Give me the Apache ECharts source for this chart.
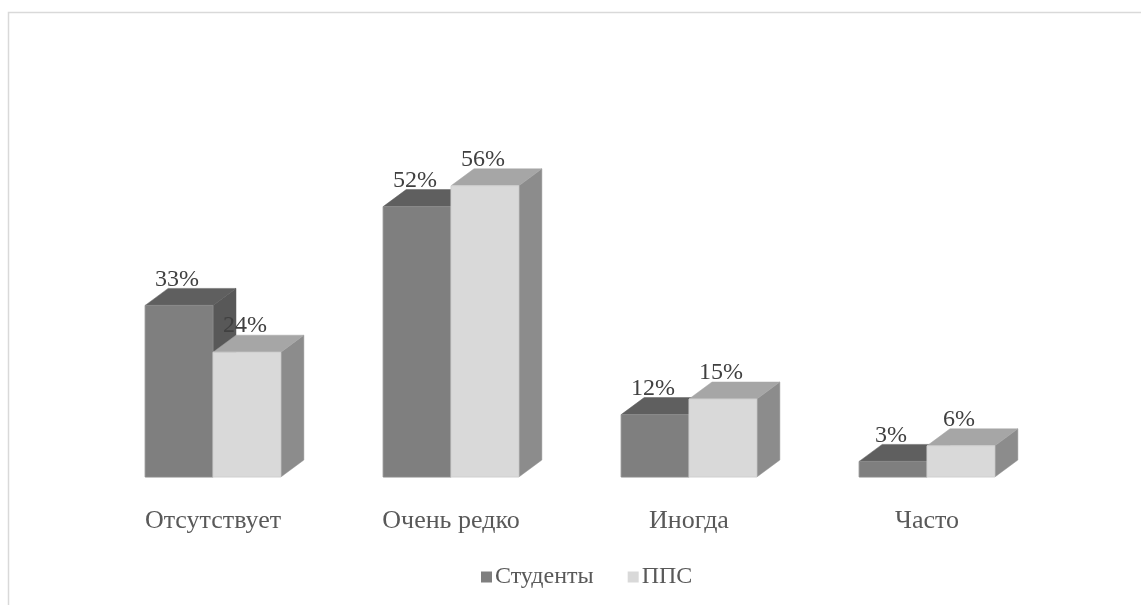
<!DOCTYPE html>
<html>
<head>
<meta charset="utf-8">
<script src="https://cdn.jsdelivr.net/npm/echarts@6/dist/echarts.min.js"></script>
<style>html,body{margin:0;padding:0;background:#fff}#c{width:1141px;height:605px}</style>
</head>
<body>
<div id="c"></div>
<script>
const categories = ['Отсутствует', 'Очень редко', 'Иногда', 'Часто'];
const students = [33, 52, 12, 3];
const pps = [24, 56, 15, 6];
const seriesNames = ['Студенты', 'ППС'];

const FONT = 'Liberation Serif';
const styles = [
  {front: '#7f7f7f', top: '#5f5f5f', side: '#585858'},
  {front: '#d9d9d9', top: '#a6a6a6', side: '#8c8c8c'}
];
const DX = 23, DY = 17, BW = 0.285;

function makeRender(si) {
  return function (params, api) {
    const c = api.value(0), v = api.value(1);
    const base = api.coord([c, 0]);
    const top = api.coord([c, v]);
    const bw = api.size([1, 0])[0] * BW;
    const x0 = base[0] + (si === 0 ? -bw : 0);
    const x1 = x0 + bw;
    const yb = base[1], yt = top[1];
    const st = styles[si];
    return {
      type: 'group',
      children: [
        {type: 'polygon', shape: {points: [[x1, yt], [x1 + DX, yt - DY], [x1 + DX, yb - DY], [x1, yb]]},
         style: {fill: st.side, stroke: st.side, lineWidth: 0.5}},
        {type: 'polygon', shape: {points: [[x0, yt], [x0 + DX, yt - DY], [x1 + DX, yt - DY], [x1, yt]]},
         style: {fill: st.top, stroke: st.top, lineWidth: 0.5}},
        {type: 'rect', shape: {x: x0, y: yt, width: bw, height: yb - yt},
         style: {fill: st.front, stroke: si === 0 ? '#8a8a8a' : '#cfcfcf', lineWidth: 1}},
        {type: 'text', x: (x0 + x1) / 2 - 2, y: yt - 26,
         style: {text: v + '%', fill: '#404040', font: '24px "' + FONT + '"', align: 'center', verticalAlign: 'middle'}}
      ]
    };
  };
}

const chart = echarts.init(document.getElementById('c'));
chart.setOption({
  animation: false,
  backgroundColor: '#fff',
  graphic: [{type: 'rect', shape: {x: 8.5, y: 12.5, width: 1300, height: 800},
    style: {fill: 'none', stroke: '#d9d9d9', lineWidth: 1.5}, silent: true}],
  grid: {left: 94, right: 95, top: 165, bottom: 128},
  legend: {
    top: 560, left: 476, padding: 5, itemWidth: 11, itemHeight: 11, itemGap: 34,
    icon: 'rect',
    textStyle: {fontFamily: FONT, fontSize: 24, color: '#595959', padding: [0, 0, 0, -2]},
    data: seriesNames
  },
  xAxis: {
    type: 'category', data: categories,
    axisLine: {show: false}, axisTick: {show: false},
    axisLabel: {margin: 31, fontFamily: FONT, fontSize: 26, color: '#595959'}
  },
  yAxis: {type: 'value', min: 0, max: 60, show: false, splitLine: {show: false}},
  series: [
    {name: seriesNames[0], type: 'custom', renderItem: makeRender(0), itemStyle: {color: '#7f7f7f'},
     data: students.map((v, i) => [i, v]), encode: {x: 0, y: 1}},
    {name: seriesNames[1], type: 'custom', renderItem: makeRender(1), itemStyle: {color: '#d9d9d9'},
     data: pps.map((v, i) => [i, v]), encode: {x: 0, y: 1}}
  ]
});
</script>
</body>
</html>
